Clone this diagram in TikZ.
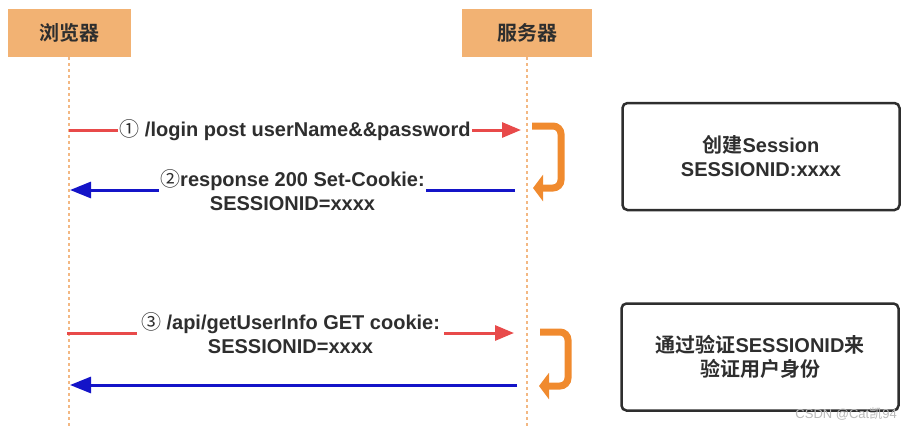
\documentclass[tikz,border=0pt]{standalone}
\usepackage{fontspec}
\setmainfont{Liberation Sans}
\newfontfamily\cjk{Noto Sans CJK SC}[BoldFont={* Bold}]
\usetikzlibrary{arrows.meta}
\definecolor{hdr}{HTML}{F2B273}
\definecolor{life}{HTML}{F3B883}
\definecolor{txt}{HTML}{2E2E2E}
\definecolor{req}{HTML}{E84A4A}
\definecolor{resp}{HTML}{1414C8}
\definecolor{loopc}{HTML}{F08A2E}
\begin{document}
\begin{tikzpicture}[x=1pt,y=-1pt, font=\fontsize{20}{24}\selectfont\bfseries, text=txt,
 actor/.style={fill=hdr, minimum height=48pt, inner sep=0},
 lifeline/.style={draw=life, line width=2.5pt, dash pattern=on 2.5pt off 3.5pt},
 reqarrow/.style={draw=req, line width=3pt, -{Triangle[length=19pt,width=15pt]}},
 resparrow/.style={draw=resp, line width=3pt, -{Triangle[length=21pt,width=16pt]}},
 lbl/.style={fill=white, inner xsep=1pt, inner ysep=1pt, align=center},
 note/.style={draw=txt, line width=2.5pt, rounded corners=5pt, minimum width=277pt, minimum height=107pt, align=center, inner sep=0},
 selfloop/.style={draw=loopc, line width=7pt, rounded corners=8pt, -{Triangle[length=10pt,width=26pt]}}
]
\useasboundingbox (0,0) rectangle (910,429);
% actors
\node[actor, minimum width=123pt] (browser) at (69,33) {\cjk 浏览器};
\node[actor, minimum width=130pt] (server) at (527,33) {\cjk 服务器};
\coordinate (bEnd) at (69,429);
\coordinate (sEnd) at (527,429);
\draw[lifeline] (browser.south) -- (bEnd);
\draw[lifeline] (server.south) -- (sEnd);
% message 1
\coordinate (a1s) at (69,130);
\coordinate (a1e) at (521,130);
\draw[reqarrow] (a1s) -- node[lbl] (m1) {{\cjk\mdseries ①} /login post userName\&\&password} (a1e);
% message 2
\coordinate (a2s) at (515,190);
\coordinate (a2e) at (70,190);
\draw[resparrow] (a2s) -- node[lbl] (m2) {{\cjk\mdseries ②}response 200 Set-Cookie:\\SESSIONID=xxxx} (a2e);
% self loop 1
\coordinate (l1a) at (532,126);
\coordinate (l1b) at (561,126);
\coordinate (l1c) at (561,188);
\coordinate (l1d) at (533,188);
\draw[selfloop] (l1a) -- (l1b) -- (l1c) -- (l1d);
% note 1
\node[note] (n1) at (761,156.5) {{\cjk 创建}Session\\SESSIONID:xxxx};
% message 3
\coordinate (a3s) at (67,333);
\coordinate (a3e) at (514,333);
\draw[reqarrow] (a3s) -- node[lbl, inner xsep=4pt] (m3) {{\cjk\mdseries ③} /api/getUserInfo GET cookie:\\SESSIONID=xxxx} (a3e);
% message 4
\coordinate (a4s) at (517,385);
\coordinate (a4e) at (70,385);
\draw[resparrow] (a4s) -- (a4e);
% self loop 2
\coordinate (l2a) at (540,332);
\coordinate (l2b) at (568,332);
\coordinate (l2c) at (568,386);
\coordinate (l2d) at (539,386);
\draw[selfloop] (l2a) -- (l2b) -- (l2c) -- (l2d);
% note 2
\node[note] (n2) at (760,357) {{\cjk 通过验证}SESSIONID{\cjk 来}\\{\cjk 验证用户身份}};
% watermark
\node[font=\fontsize{13}{15}\selectfont, text=gray!55, anchor=east, inner sep=0] (wm) at (897,414) {CSDN @Cat{\cjk 凯}94};
\end{tikzpicture}
\end{document}
